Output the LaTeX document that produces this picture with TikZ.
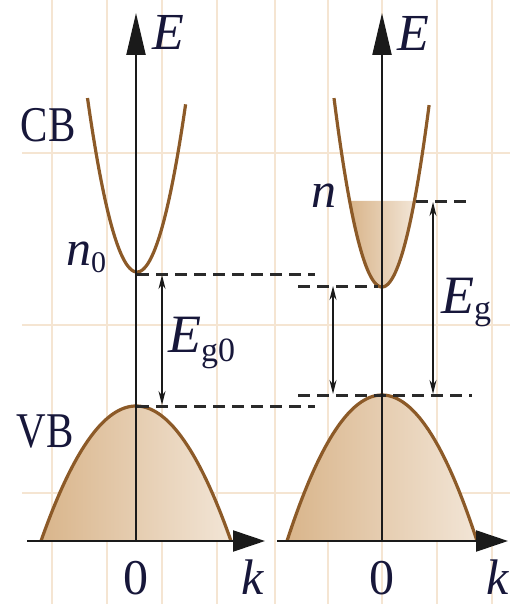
\documentclass[tikz,border=0pt]{standalone}
\usepackage{fontspec}
\setmainfont{Liberation Serif}
\usetikzlibrary{arrows.meta}
\definecolor{gridc}{HTML}{F5E5D2}
\definecolor{axisc}{HTML}{1A1A1A}
\definecolor{brownc}{HTML}{8C5A28}
\definecolor{dashc}{HTML}{2A2A2A}
\definecolor{fillA}{HTML}{D9B58B}
\definecolor{fillB}{HTML}{F2E5D6}
\definecolor{textc}{HTML}{17173A}
\tikzset{
  gridline/.style={draw=gridc, line width=2.5pt},
  axisline/.style={draw=axisc, line width=2.2pt},
  eaxis/.style={axisline, -{Triangle[length=42pt,width=19pt]}},
  kaxis/.style={axisline, -{Triangle[length=32pt,width=21pt]}},
  bandline/.style={draw=brownc, line width=3.2pt},
  lvldash/.style={draw=dashc, line width=3pt, dash pattern=on 12pt off 7pt},
  gaparrow/.style={draw=axisc, line width=1.6pt, {Stealth[length=14pt,width=7pt]}-{Stealth[length=14pt,width=7pt]}},
  lbl/.style={text=textc, inner sep=0pt, font=\fontsize{50}{50}\selectfont},
  biglbl/.style={text=textc, inner sep=0pt, font=\fontsize{54}{54}\selectfont},
  bandfill/.style={left color=fillA, right color=fillB, draw=none}
}
\begin{document}
\begin{tikzpicture}[x=1pt,y=-1pt]
\useasboundingbox (0,0) rectangle (510,604);
% background grid
\foreach \gx in {52,107,162,217,275,328,382,437,492}
  \draw[gridline] (\gx,0) -- (\gx,604);
\foreach \gy in {153,325,493}
  \draw[gridline] (22,\gy) -- (510,\gy);

% ---------- left panel ----------
\shade[bandfill] plot[domain=-95:95, samples=80] ({136+\x},{406+0.01496*(\x)*(\x)}) -- cycle;
\draw[bandline] plot[domain=-95:95, samples=80] ({136+\x},{406+0.01496*(\x)*(\x)});
\draw[bandline] plot[domain=-49.5:48.6, samples=80] ({137+\x},{272-0.071*(\x)*(\x)});

% ---------- right panel ----------
\shade[bandfill] plot[domain=-95:95, samples=80] ({382+\x},{395+0.01618*(\x)*(\x)}) -- cycle;
\draw[bandline] plot[domain=-95:95, samples=80] ({382+\x},{395+0.01618*(\x)*(\x)});
\shade[bandfill] plot[domain=-32.4:32.4, samples=60] ({382+\x},{287-0.082*(\x)*(\x)}) -- cycle;
\draw[bandline] plot[domain=-48:47.1, samples=80] ({382+\x},{287-0.082*(\x)*(\x)});

% coordinates
\coordinate (LO) at (136,541);
\coordinate (LEtop) at (136,13);
\coordinate (LKl) at (27,541);
\coordinate (LKr) at (265,541);
\coordinate (RO) at (382,541);
\coordinate (REtop) at (382,13);
\coordinate (RKl) at (277,541);
\coordinate (RKr) at (508,541);

\coordinate (LCBmin) at (137,274);
\coordinate (LCBend) at (315,274);
\coordinate (LVBmax) at (137,406);
\coordinate (LVBend) at (315,406);
\coordinate (RCBstart) at (298,286);
\coordinate (RCBmin) at (378,286);
\coordinate (RVBstart) at (298,395);
\coordinate (RVBend) at (472,395);
\coordinate (RNedge) at (416,201);
\coordinate (RNend) at (472,201);

\coordinate (A1t) at (162,275);
\coordinate (A1b) at (162,405);
\coordinate (A2t) at (333,286);
\coordinate (A2b) at (333,394);
\coordinate (A3t) at (433,202);
\coordinate (A3b) at (433,394);

% level lines
\draw[lvldash] (LCBmin) -- (LCBend);
\draw[lvldash] (LVBmax) -- (LVBend);
\draw[lvldash] (RCBstart) -- (RCBmin);
\draw[lvldash] (RVBstart) -- (RVBend);
\draw[lvldash] (RNedge) -- (RNend);

% gap arrows
\draw[gaparrow] (A1t) -- (A1b);
\draw[gaparrow] (A2t) -- (A2b);
\draw[gaparrow] (A3t) -- (A3b);

% axes
\draw[eaxis] (LO) -- (LEtop);
\draw[kaxis] (LKl) -- (LKr);
\draw[eaxis] (RO) -- (REtop);
\draw[kaxis] (RKl) -- (RKr);

% labels
\node[lbl, font=\fontsize{52}{52}\selectfont] (EL) at (168,32) {\itshape E};
\node[lbl, font=\fontsize{52}{52}\selectfont] (ER) at (413,33) {\itshape E};
\node[lbl] (ZL) at (136,578) {0};
\node[lbl] (ZR) at (382,578) {0};
\node[lbl] (KL) at (253,577) {\itshape k};
\node[lbl] (KR) at (498,577) {\itshape k};
\node[lbl, xscale=0.82] (CB) at (48,125) {CB};
\node[lbl, xscale=0.82] (VB) at (45,432) {VB};
\node[lbl, anchor=base west] (N0) at (66,265) {\itshape n\raisebox{-7pt}{\fontsize{30}{30}\selectfont\upshape 0}};
\node[lbl, anchor=base west] (NR) at (311,207) {\itshape n};
\node[biglbl, anchor=base west] (EG0) at (168,352) {\itshape E\raisebox{-9pt}{\fontsize{34}{34}\selectfont\upshape g0}};
\node[biglbl, anchor=base west] (EG) at (441,313) {\itshape E\raisebox{-6pt}{\fontsize{34}{34}\selectfont\upshape g}};
\end{tikzpicture}
\end{document}
